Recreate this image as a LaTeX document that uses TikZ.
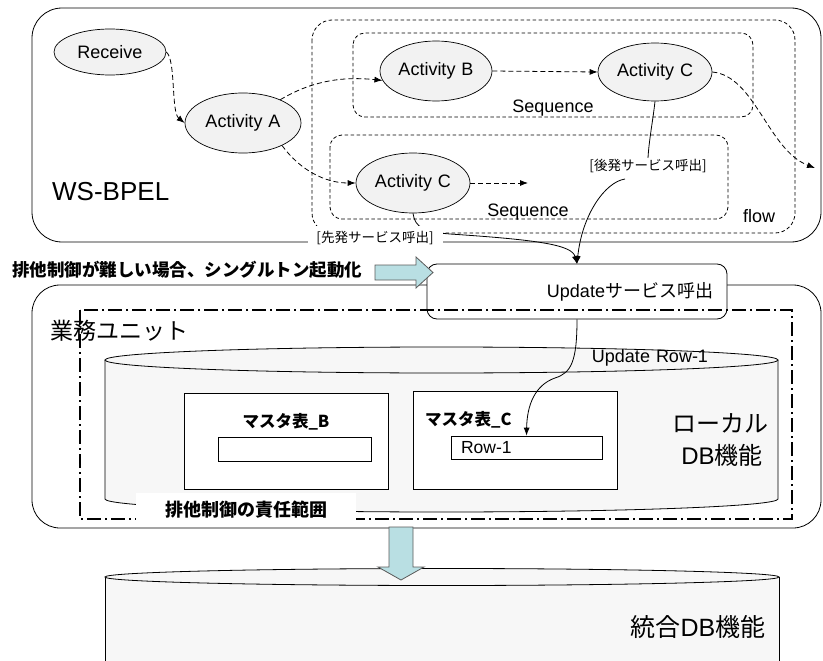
\documentclass[tikz,border=0pt]{standalone}
\usepackage{fontspec}
\setmainfont{Liberation Sans}
\newfontfamily\cjk{Noto Sans CJK JP}
\usetikzlibrary{shapes.geometric,arrows.meta}
\definecolor{ellfill}{RGB}{242,242,242}
\definecolor{cylfill}{RGB}{247,247,247}
\definecolor{arrblue}{RGB}{185,223,227}
\definecolor{arredge}{RGB}{90,90,90}
\begin{document}
\begin{tikzpicture}[x=1pt,y=-1pt,
  actv/.style={ellipse,draw,fill=ellfill,inner sep=0pt,line width=0.7pt,font=\fontsize{18}{20}\selectfont},
  darr/.style={dash pattern=on 5pt off 3pt,line width=0.8pt,-{Latex[length=8pt,width=6pt]}},
  sarr/.style={line width=0.8pt,-{Latex[length=8pt,width=6pt]}},
  grp/.style={dash pattern=on 3.5pt off 2.5pt,line width=0.8pt,rounded corners=12pt},
  box/.style={line width=0.8pt},
  txt/.style={inner sep=1pt,font=\fontsize{18}{20}\selectfont},
  small/.style={inner sep=1pt,font=\cjk\fontsize{13.5}{15}\selectfont},
  bigtxt/.style={inner sep=1pt,font=\fontsize{24}{26}\selectfont},
  tbl/.style={draw,fill=white,inner sep=0pt,line width=0.7pt},
  blk/.style={fill=arrblue,draw=arredge,line width=0.8pt}
]
\useasboundingbox (0,0) rectangle (823,661);
\clip (0,0) rectangle (823,661);

% ---------- WS-BPEL area ----------
\draw[box,rounded corners=30pt,fill=white] (32,8) rectangle (821,242);
\node[anchor=west,inner sep=1pt,font=\fontsize{26}{28}\selectfont] (wsb) at (51,192) {WS-BPEL};

\draw[grp,rounded corners=20pt] (312,20) rectangle (795,233);
\draw[grp] (353,33) rectangle (753,117);
\draw[grp] (330,135) rectangle (728,219);
\node[txt] (seq1) at (553,108) {Sequence};
\node[txt] (seq2) at (528,212) {Sequence};
\node[txt] (flowl) at (759,216.5) {flow};

\node[actv,minimum width=112pt,minimum height=46pt] (recv) at (110,52) {Receive};
\node[actv,minimum width=116pt,minimum height=60pt] (actA) at (243,123) {Activity\hspace{6pt}A};
\node[actv,minimum width=112pt,minimum height=60pt] (actB) at (436,71) {Activity\hspace{6pt}B};
\node[actv,minimum width=114pt,minimum height=58pt] (actC1) at (655,72) {Activity\hspace{6pt}C};
\node[actv,minimum width=114pt,minimum height=60pt] (actC2) at (413,183) {Activity\hspace{6pt}C};
\coordinate (flowout) at (815,168);
\coordinate (c2end) at (528,183);

\draw[darr] (recv.east) .. controls (176,60) and (171,112) .. (actA.west);
\draw[darr] (actA.32) .. controls (310,82) and (340,76) .. (actB.190);
\draw[darr] (actA.-30) .. controls (300,170) and (325,183) .. (actC2.west);
\draw[darr] (actB.east) -- (actC1.west);
\draw[darr] (actC2.east) -- (c2end);
\draw[darr] (actC1.east) .. controls (755,76) and (768,150) .. (flowout);

\node[small] (lbl2) at (648,166) {[後発サービス呼出]};

% ---------- unit area ----------
\draw[box,rounded corners=28pt,fill=white] (32,285) rectangle (821,528);

\draw[line width=0.8pt] (actC1.south) .. controls (653,120) and (649,140) .. (lbl2.north);
\draw[sarr] ([xshift=-23pt,yshift=-5pt]lbl2.south) .. controls (605,182) and (582,215) .. (577,264);
\draw[sarr] (actC2.south) .. controls (415,228) and (425,232) .. (450,234) .. controls (540,240) and (572,245) .. (577,264);
\node[small,fill=white,minimum width=135pt,minimum height=24pt,inner sep=0pt] (lbl1) at (375,238) {[先発サービス呼出]};

\node[draw,fill=white,rounded corners=10pt,minimum width=300pt,minimum height=55pt,line width=0.8pt,inner sep=0pt] (upd) at (577,291.5) {};
\node[txt] (updt) at (630,292) {Update{\cjk サービス呼出}};

% local DB cylinder
\draw[box,fill=cylfill] (105,360) -- (105,499) arc[start angle=180,end angle=0,x radius=336.5,y radius=13] -- (778,360);
\draw[box,fill=cylfill] (441.5,360) ellipse[x radius=336.5,y radius=13];
\node[txt] (updrow) at (650,358) {Update\hspace{6pt}Row-1};

\node[tbl,minimum width=204pt,minimum height=96pt] (mB) at (286,441) {};
\node[tbl,minimum width=204pt,minimum height=98pt] (mC) at (515,440) {};
\node[inner sep=1pt,font=\cjk\bfseries\fontsize{16.5}{18}\selectfont] (mBt) at (286,422) {マスタ表\_B};
\node[anchor=west,inner sep=1pt,font=\cjk\bfseries\fontsize{16.5}{18}\selectfont] (mCt) at (424,420) {マスタ表\_C};
\node[tbl,minimum width=153pt,minimum height=24pt] (rowB) at (294.5,449) {};
\node[tbl,minimum width=151pt,minimum height=23pt,text width=131pt,inner xsep=10pt,align=left,font=\fontsize{17.5}{19}\selectfont] (row1) at (526.5,447.5) {Row-1};

\node[bigtxt,font=\cjk\fontsize{24}{26}\selectfont] (loc1) at (720,423) {ローカル};
\node[bigtxt] (loc2) at (722,455) {DB{\cjk 機能}};

\draw[sarr] (upd.south) .. controls (577,362) and (571,373) .. (555,378) .. controls (535,385) and (527,405) .. (row1.north);

\draw[line width=1.1pt,dash pattern=on 14pt off 4pt on 2pt off 4pt] (80,310) rectangle (792,519);
\node[fill=white,minimum width=220pt,minimum height=33pt,inner sep=0pt,font=\cjk\bfseries\fontsize{18}{20}\selectfont] (resp) at (246,509.5) {排他制御の責任範囲};
\node[anchor=west,inner sep=1pt,font=\cjk\fontsize{23}{25}\selectfont] (unit) at (49,331) {業務ユニット};

% singleton arrow
\node[anchor=west,inner sep=1pt,font=\cjk\bfseries\fontsize{17.5}{19}\selectfont] (single) at (11,270) {排他制御が難しい場合、シングルトン起動化};
\draw[blk] (375,265) -- (416,265) -- (416,257) -- (433,272.5) -- (416,288) -- (416,280) -- (375,280) -- cycle;

% integrated DB
\fill[cylfill] (105,577) rectangle (779,680);
\draw[box] (105,577) -- (105,680);
\draw[box] (779,577) -- (779,680);
\draw[box,fill=cylfill] (442,577) ellipse[x radius=337,y radius=8.5];
\node[bigtxt,font=\cjk\fontsize{25}{27}\selectfont] (integ) at (698,627) {統合{\fontspec{Liberation Sans}DB}機能};
\draw[blk] (389,527) -- (413,527) -- (413,567) -- (424,567) -- (401,580) -- (378,567) -- (389,567) -- cycle;
\end{tikzpicture}
\end{document}
